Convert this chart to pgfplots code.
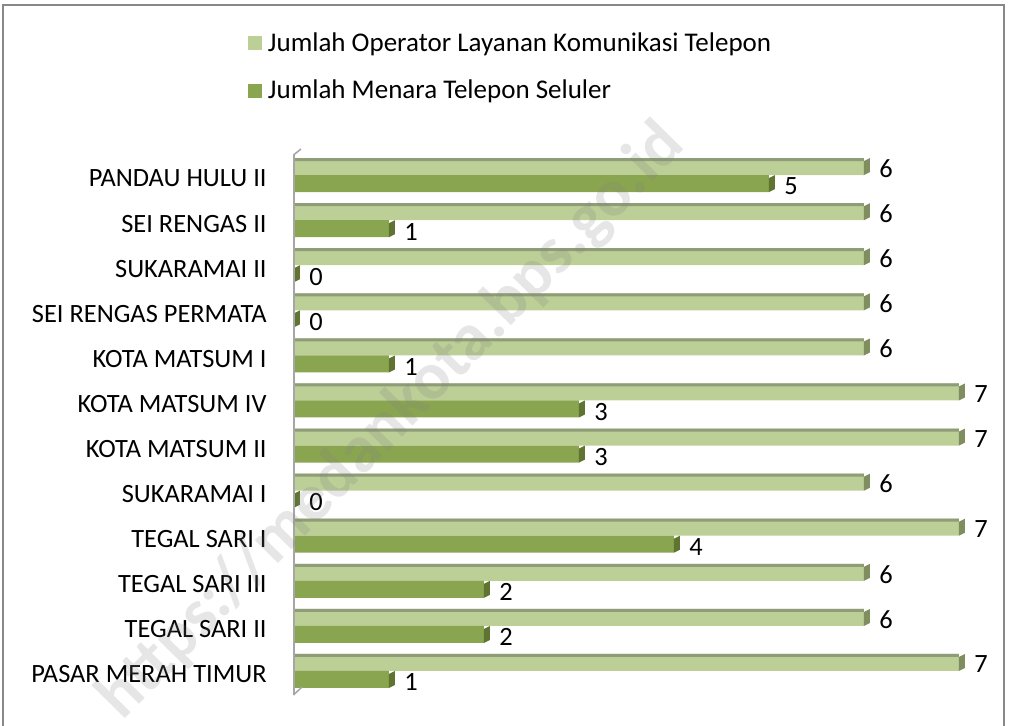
\documentclass[border=0pt]{standalone}
\usepackage{fontspec}
\setmainfont{Carlito}
\usepackage{pgfplots}
\usepackage{pgfplotstable}
\pgfplotsset{compat=1.18}

\definecolor{lightbar}{HTML}{BCCF97}
\definecolor{lighttop}{HTML}{8F9C78}
\definecolor{lightcap}{HTML}{7F8D5F}
\definecolor{darkbar}{HTML}{8AA550}
\definecolor{darkcap}{HTML}{5E7430}
\definecolor{framegray}{HTML}{888888}

% end caps of the 3D bars
\pgfdeclareplotmark{capL}{%
  \pgfpathmoveto{\pgfqpoint{0pt}{0pt}}%
  \pgfpathlineto{\pgfqpoint{0pt}{7pt}}%
  \pgfpathlineto{\pgfqpoint{3pt}{8.5pt}}%
  \pgfpathlineto{\pgfqpoint{3pt}{1.5pt}}%
  \pgfpathclose
  \pgfusepathqfill}
\pgfdeclareplotmark{capD}{%
  \pgfpathmoveto{\pgfqpoint{0pt}{-8.5pt}}%
  \pgfpathlineto{\pgfqpoint{0pt}{-1.5pt}}%
  \pgfpathlineto{\pgfqpoint{3pt}{0pt}}%
  \pgfpathlineto{\pgfqpoint{3pt}{-7pt}}%
  \pgfpathclose
  \pgfusepathqfill}

% idx 0 = bottom row
\pgfplotstableread{
idx operator menara
0  7 1
1  6 2
2  6 2
3  7 4
4  6 0
5  7 3
6  7 3
7  6 1
8  6 0
9  6 0
10 6 1
11 6 5
}\datatable

\begin{document}
\begin{tikzpicture}
\useasboundingbox (0pt,0pt) rectangle (504.5pt,-362.5pt);
\clip (0pt,0pt) rectangle (504.5pt,-362.5pt);
\draw[framegray, line width=0.75pt] (1.5pt,-2.5pt) rectangle (502pt,-380pt);

\begin{axis}[
    at={(147pt,-76.25pt)}, anchor=north west,
    scale only axis,
    width=332.5pt, height=270.5pt,
    xmin=0, xmax=7,
    ymin=-0.5, ymax=11.5,
    clip=false,
    axis line style={draw=none},
    tick style={draw=none},
    xtick=\empty,
    ytick={0,...,11},
    yticklabels={PASAR MERAH TIMUR, TEGAL SARI II, TEGAL SARI III, TEGAL SARI I,
      SUKARAMAI I, KOTA MATSUM II, KOTA MATSUM IV, KOTA MATSUM I,
      SEI RENGAS PERMATA, SUKARAMAI II, SEI RENGAS II, PANDAU HULU II},
    yticklabel style={anchor=east, inner sep=0pt, xshift=-13.5pt, yshift=-1.75pt},
    font=\fontsize{13.2}{15.8}\selectfont,
    /pgf/number format/assume math mode=true,
    legend cell align=left,
    legend style={draw=none, fill=none, inner sep=0pt, outer sep=0pt,
      at={(axis description cs:-0.0692,1.2216)}, anchor=north west,
      row sep=12.8pt, column sep=3pt,
      font=\fontsize{13.5}{16}\selectfont,
      nodes={inner sep=0pt}},
    every node near coord/.append style={anchor=west, inner sep=0pt,
      xshift=7.5pt, text=black,
      font=\fontsize{13.2}{15.8}\selectfont},
]
\addplot[xbar, bar width=8.5pt, bar shift=4.25pt, fill=lightbar, draw=none,
  point meta=x, nodes near coords,
  every node near coord/.append style={yshift=3.25pt},
  legend image code/.code={\fill[lightbar] (0pt,-3.5pt) rectangle (7pt,3.5pt);}]
  table[x=operator, y=idx] {\datatable};
\addlegendentry{Jumlah Operator Layanan Komunikasi Telepon}
\addplot[xbar, bar width=8.5pt, bar shift=-4.25pt, fill=darkbar, draw=none,
  point meta=x, nodes near coords,
  every node near coord/.append style={yshift=-5.75pt},
  legend image code/.code={\fill[darkbar] (0pt,-3.5pt) rectangle (7pt,3.5pt);}]
  table[x=menara, y=idx] {\datatable};
\addlegendentry{Jumlah Menara Telepon Seluler}
% top faces of the light bars
\addplot[xbar, bar width=1.5pt, bar shift=7.75pt, fill=lighttop, draw=none, forget plot]
  table[x=operator, y=idx] {\datatable};
% end caps
\addplot[only marks, mark=capL, mark options={fill=lightcap, draw=none}, forget plot]
  table[x=operator, y=idx] {\datatable};
\addplot[only marks, mark=capD, mark options={fill=darkcap, draw=none}, forget plot]
  table[x=menara, y=idx] {\datatable};
\end{axis}

% axis wall
\draw[gray!70, line width=1pt] (146.75pt,-77.5pt) -- (146.75pt,-347.5pt);
\draw[gray!70, line width=0.75pt] (146.75pt,-77.5pt) -- (150.5pt,-74.5pt);
\draw[gray!70, line width=0.75pt] (146.75pt,-347.5pt) -- (151pt,-343.5pt);

% watermark
\node[rotate=45.5, text=gray, opacity=0.2,
  font=\fontsize{33.5}{33.5}\selectfont\bfseries] at (196pt,-211pt) {https://medankota.bps.go.id};
\end{tikzpicture}
\end{document}
